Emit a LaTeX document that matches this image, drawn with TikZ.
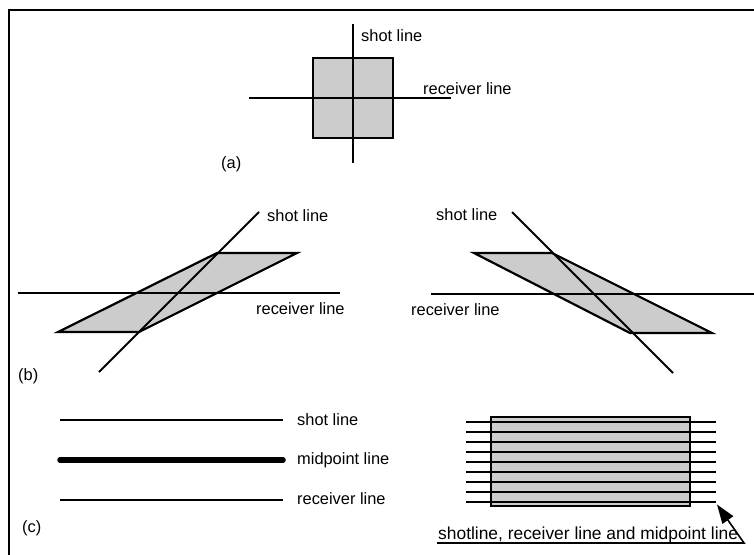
\documentclass[tikz,border=0pt]{standalone}
\usepackage{fontspec}
\setmainfont{Liberation Sans}
\usetikzlibrary{arrows.meta}
\begin{document}
\begin{tikzpicture}[x=1pt,y=-1pt,
  thin line/.style={line width=1.8pt},
  shape edge/.style={line width=2.2pt, fill=black!20, line join=miter},
  lbl/.style={anchor=base west, inner sep=0pt, font=\fontsize{16.4}{19}\selectfont},
  biglbl/.style={anchor=base west, inner sep=0pt, font=\fontsize{17.4}{20}\selectfont},
  frame line/.style={line width=2.4pt}]
\useasboundingbox (0,0) rectangle (754,554);
% frame
\coordinate (fl) at (9,560);
\coordinate (ftl) at (9,10);
\coordinate (fr) at (760,10);
\draw[frame line] (fl) -- (ftl) -- (fr);

% ---------- (a) ----------
\draw[shape edge] (313,58) rectangle (393,138);
\coordinate (av1) at (353,24);
\coordinate (av2) at (353,163);
\coordinate (ah1) at (249,98);
\coordinate (ah2) at (451,98);
\draw[thin line] (av1) -- (av2);
\draw[thin line] (ah1) -- (ah2);
\node[lbl] (ashot) at (361,41) {shot line};
\node[lbl] (arec) at (423,94.5) {receiver line};
\node[lbl] (la) at (221,168) {(a)};

% ---------- (b) left ----------
\draw[shape edge] (58,332) -- (139,332) -- (297,253) -- (217,253) -- cycle;
\coordinate (bl1) at (18,293);
\coordinate (bl2) at (340,293);
\draw[thin line] (bl1) -- (bl2);
\coordinate (bs1) at (99,372);
\coordinate (bs2) at (259,212);
\draw[thin line] (bs1) -- (bs2);
\node[lbl] (blshot) at (267,221) {shot line};
\node[lbl] (blrec) at (256,314) {receiver line};
\node[lbl] (lb) at (18,380) {(b)};

% ---------- (b) right ----------
\draw[shape edge] (474,253) -- (552,253) -- (712,333) -- (630,333) -- cycle;
\coordinate (br1) at (431,294);
\coordinate (br2) at (754,294);
\draw[thin line] (br1) -- (br2);
\coordinate (brs1) at (512,212);
\coordinate (brs2) at (673,373);
\draw[thin line] (brs1) -- (brs2);
\node[lbl] (brshot) at (436,220.5) {shot line};
\node[lbl] (brrec) at (411,315) {receiver line};

% ---------- (c) left ----------
\coordinate (cs1) at (60,420);
\coordinate (cs2) at (283,420);
\coordinate (cm1) at (60,460);
\coordinate (cm2) at (283,460);
\coordinate (cr1) at (60,500);
\coordinate (cr2) at (283,500);
\draw[thin line] (cs1) -- (cs2);
\draw[line width=5.5pt, line cap=round] (cm1) -- (cm2);
\draw[thin line] (cr1) -- (cr2);
\node[lbl] (cshot) at (297,425) {shot line};
\node[lbl] (cmid) at (297,464) {midpoint line};
\node[lbl] (crec) at (297,504.5) {receiver line};
\node[lbl] (lc) at (22,532) {(c)};

% ---------- (c) right ----------
\draw[shape edge] (491,417) rectangle (690,506);
\foreach \i in {0,...,8} {
  \coordinate (ml\i a) at (466,422.3+9.92*\i);
  \coordinate (ml\i b) at (716,422.3+9.92*\i);
  \draw[thin line] (ml\i a) -- (ml\i b);
}
\node[biglbl] (clbl) at (438,539) {shotline, receiver line and midpoint line};
\coordinate (ul1) at (437,543);
\coordinate (ul2) at (744,543);
\coordinate (tip) at (717,504.5);
\draw[line width=1.6pt, -{Triangle[length=19pt,width=13pt]}] (ul1) -- (ul2) -- (tip);
\end{tikzpicture}
\end{document}
